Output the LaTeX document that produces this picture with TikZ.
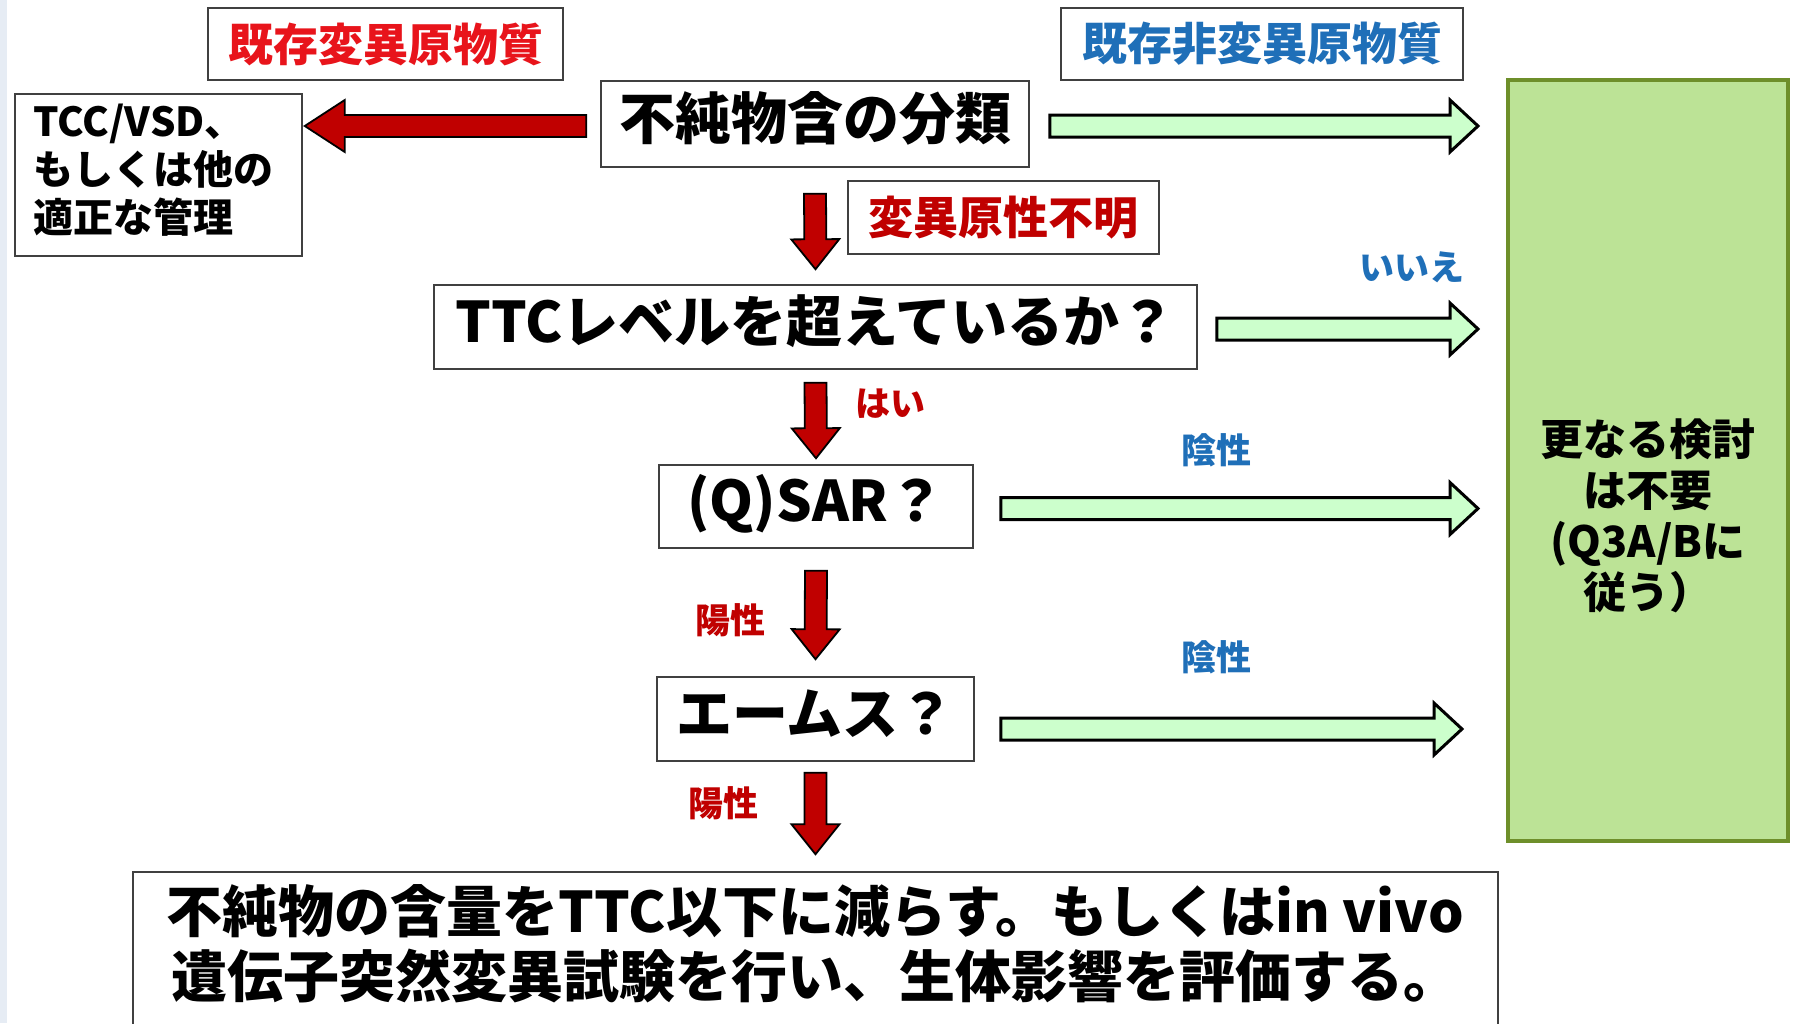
\documentclass[tikz,border=0pt]{standalone}
\usepackage{fontspec}
\setmainfont{Noto Sans CJK JP}
\usetikzlibrary{calc}
\definecolor{brightred}{HTML}{E8141B}
\definecolor{darkred}{HTML}{C00000}
\definecolor{lblblue}{HTML}{1F6FB8}
\definecolor{arrowred}{HTML}{C00000}
\definecolor{arrowgreen}{HTML}{CCFFCC}
\definecolor{finalfill}{HTML}{BCE396}
\definecolor{finaldraw}{HTML}{6E8F2A}
\definecolor{stripcol}{HTML}{E6ECF4}
\newcommand\fs[2]{\fontsize{#1}{#2}\selectfont}
\newcommand\fatarrow[6]{%
  \coordinate (fatb) at ($(#2)!#6!(#1)$);
  \draw[#3] ($(#1)!#4!90:(#2)$) -- ($(fatb)!#4!90:(#2)$) -- ($(fatb)!#5!90:(#2)$) -- (#2)
    -- ($(fatb)!#5!-90:(#2)$) -- ($(fatb)!#4!-90:(#2)$) -- ($(#1)!#4!-90:(#2)$) -- cycle;}
\begin{document}
\begin{tikzpicture}[x=1pt,y=-1pt,
  box/.style={draw=black!75, line width=1.5pt, fill=white, inner sep=0pt},
  bigtxt/.style={font={\bfseries\fs{56}{60}}, text height=49pt, text depth=19pt},
  lbl/.style={inner sep=0pt, font={\bfseries\fs{35}{40}}},
  garrow/.style={draw=black, line width=3pt, fill=arrowgreen, line join=miter},
  rarrow/.style={draw=black, line width=1.8pt, fill=arrowred, line join=miter}]
\useasboundingbox (0,0) rectangle (1799,1023);
\clip (0,0) rectangle (1799,1023);
\fill[white] (0,0) rectangle (1799,1023);
\fill[stripcol] (0,0) rectangle (7,1023);

% boxes
\node[box, minimum width=355, minimum height=72, text=brightred, font={\bfseries\fs{45}{50}}] (mut) at (385.5,44) {既存変異原物質};
\node[box, minimum width=402, minimum height=72, text=lblblue, font={\bfseries\fs{45}{50}}] (nonmut) at (1262,44) {既存非変異原物質};
\node[box, minimum width=428, minimum height=86, bigtxt] (cls) at (815,124) {不純物含の分類};
\node[box, minimum width=287, minimum height=162] (tcc) at (158.5,175) {};
\node[anchor=west, align=left, inner sep=0pt, font={\bfseries\fs{40}{48}}] (tcctxt) at ($(tcc.west)+(19,-5)$) {TCC/VSD、\\もしくは他の\\適正な管理};
\node[draw=finaldraw, line width=4pt, fill=finalfill, minimum width=280, minimum height=761, inner sep=0pt] (final) at (1648,460.5) {};
\node[align=center, inner sep=0pt, font={\bfseries\fs{43}{51}}] (finaltxt) at ($(final.center)+(0,55)$) {更なる検討\\は不要\\(Q3A/Bに\\従う）};
\node[box, minimum width=311, minimum height=73, text=darkred, font={\bfseries\fs{45}{50}}] (unk) at (1003.5,217.5) {変異原性不明};
\node[box, minimum width=763, minimum height=84, bigtxt] (ttc) at (815.5,327) {TTCレベルを超えているか？};
\node[box, minimum width=314, minimum height=83, bigtxt] (qsar) at (816,506.5) {(Q)SAR？};
\node[box, minimum width=317, minimum height=84, bigtxt] (ames) at (815.5,719) {エームス？};
\node[box, minimum width=1365, minimum height=200] (act) at (815.5,972) {};
\node[align=center, inner sep=0pt, font={\bfseries\fs{56}{65}}] (acttxt) at (815.5,944) {不純物の含量をTTC以下に減らす。もしくはin vivo\\遺伝子突然変異試験を行い、生体影響を評価する。};

% labels
\node[lbl, text=lblblue] (no) at (1412,267) {いいえ};
\node[lbl, text=darkred] (yes) at (890,404) {はい};
\node[lbl, text=lblblue] (neg1) at (1216,450) {陰性};
\node[lbl, text=darkred] (pos1) at (730,620) {陽性};
\node[lbl, text=lblblue] (neg2) at (1216,657) {陰性};
\node[lbl, text=darkred] (pos2) at (723,803) {陽性};

% red left arrow
\coordinate (rls) at ($(cls.west)+(-14,2)$);
\coordinate (rle) at ($(tcc.east |- rls)+(2,0)$);
\fatarrow{rls}{rle}{rarrow}{11pt}{26pt}{40pt}

% green arrows
\coordinate (g1s) at ($(cls.east)+(20,2)$);
\coordinate (g1e) at ($(final.west |- g1s)+(-28,0)$);
\fatarrow{g1s}{g1e}{garrow}{11pt}{26pt}{28pt}
\coordinate (g2s) at ($(ttc.east)+(19,2)$);
\coordinate (g2e) at ($(final.west |- g2s)+(-28,0)$);
\fatarrow{g2s}{g2e}{garrow}{11pt}{26pt}{28pt}
\coordinate (g3s) at ($(qsar.east)+(27,2)$);
\coordinate (g3e) at ($(final.west |- g3s)+(-28,0)$);
\fatarrow{g3s}{g3e}{garrow}{11pt}{26pt}{28pt}
\coordinate (g4s) at ($(ames.east)+(26,10)$);
\coordinate (g4e) at ($(final.west |- g4s)+(-44,0)$);
\fatarrow{g4s}{g4e}{garrow}{11pt}{26pt}{28pt}

% red down arrows
\coordinate (d1s) at ($(cls.south)+(0,26)$);
\coordinate (d1e) at ($(ttc.north)+(0,-15)$);
\fatarrow{d1s}{d1e}{rarrow}{11pt}{24pt}{30pt}
\coordinate (d2s) at ($(ttc.south)+(0,13)$);
\coordinate (d2e) at ($(qsar.north)+(0,-6)$);
\fatarrow{d2s}{d2e}{rarrow}{11pt}{24pt}{30pt}
\coordinate (d3s) at ($(qsar.south)+(0,22)$);
\coordinate (d3e) at ($(ames.north)+(0,-17)$);
\fatarrow{d3s}{d3e}{rarrow}{11pt}{24pt}{30pt}
\coordinate (d4s) at ($(ames.south)+(0,11)$);
\coordinate (d4e) at ($(act.north)+(0,-17)$);
\fatarrow{d4s}{d4e}{rarrow}{11pt}{24pt}{30pt}
\end{tikzpicture}
\end{document}
